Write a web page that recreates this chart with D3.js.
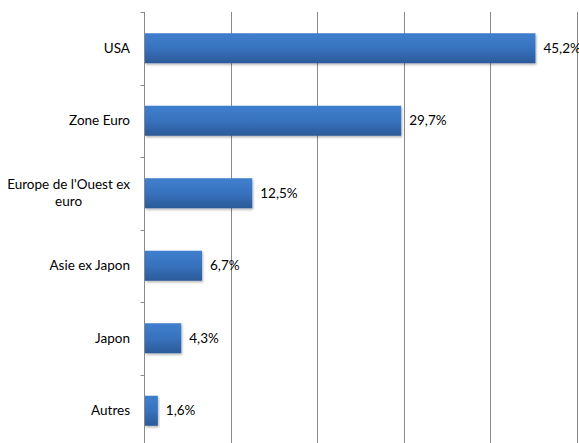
<!DOCTYPE html>
<html>
<head>
<meta charset="utf-8">
<script src="https://cdn.jsdelivr.net/npm/d3@7"></script>
<style>
  body { margin: 0; background: #fff; }
  text { font-family: Lato, "Open Sans", sans-serif; fill: #000; }
</style>
</head>
<body>
<script>
const categories = ["USA", "Zone Euro", "Europe de l'Ouest ex euro", "Asie ex Japon", "Japon", "Autres"];
const labelLines = [["USA"], ["Zone Euro"], ["Europe de l'Ouest ex", "euro"], ["Asie ex Japon"], ["Japon"], ["Autres"]];
const values = [45.2, 29.7, 12.5, 6.7, 4.3, 1.6];
const gridTicks = [0, 10, 20, 30, 40, 50];

window.onload = function () {
    const w = 579, h = 443;
    const x0 = 144, x1 = 577, yTop = 12, yBottom = 447;

    const x = d3.scaleLinear().domain([0, 50]).range([x0, x1]);
    const y = d3.scaleBand().domain(categories).range([yTop, yBottom]).paddingInner(0.586).paddingOuter(0.293);

    const svg = d3.select("body").append("svg")
        .attr("width", w)
        .attr("height", h);

    const defs = svg.append("defs");
    const grad = defs.append("linearGradient")
        .attr("id", "barGrad")
        .attr("x1", 0).attr("y1", 0).attr("x2", 0).attr("y2", 1);
    grad.append("stop").attr("offset", "0%").attr("stop-color", "#3f7fce");
    grad.append("stop").attr("offset", "50%").attr("stop-color", "#3872be");
    grad.append("stop").attr("offset", "100%").attr("stop-color", "#2b5a98");

    const shadow = defs.append("filter").attr("id", "shadow")
        .attr("x", "-5%").attr("y", "-20%").attr("width", "115%").attr("height", "150%");
    shadow.append("feDropShadow")
        .attr("dx", 1).attr("dy", 1.5).attr("stdDeviation", 1)
        .attr("flood-color", "#000").attr("flood-opacity", 0.3);

    // vertical gridlines
    svg.selectAll(".grid")
        .data(gridTicks.slice(1))
        .enter().append("line")
        .attr("x1", d => Math.round(x(d)) + 0.5)
        .attr("x2", d => Math.round(x(d)) + 0.5)
        .attr("y1", yTop)
        .attr("y2", h)
        .style("stroke", "#8a8a8a")
        .style("stroke-width", 1);

    // category axis with ticks between bands
    const axisX = x0 + 0.5;
    svg.append("line")
        .attr("x1", axisX).attr("x2", axisX)
        .attr("y1", yTop).attr("y2", h)
        .style("stroke", "#8a8a8a");

    const step = y.step();
    svg.selectAll(".tick")
        .data(d3.range(categories.length + 1))
        .enter().append("line")
        .attr("x1", axisX - 4).attr("x2", axisX)
        .attr("y1", i => Math.round(yTop + i * step) + 0.5)
        .attr("y2", i => Math.round(yTop + i * step) + 0.5)
        .style("stroke", "#8a8a8a");

    // bars
    svg.selectAll(".bar")
        .data(values)
        .enter().append("rect")
        .attr("x", x0 + 1)
        .attr("y", (d, i) => y(categories[i]))
        .attr("width", d => x(d) - x0 - 1)
        .attr("height", y.bandwidth())
        .attr("fill", "url(#barGrad)")
        .attr("filter", "url(#shadow)");

    // value labels
    svg.selectAll(".val")
        .data(values)
        .enter().append("text")
        .attr("x", d => x(d) + 8)
        .attr("y", (d, i) => y(categories[i]) + y.bandwidth() / 2)
        .attr("dy", "0.35em")
        .attr("font-size", "13.5px")
        .text(d => d.toFixed(1).replace(".", ",") + "%");

    // category labels
    const labelRight = 130;
    const lineH = 17;
    labelLines.forEach(function (lines, i) {
        const cy = y(categories[i]) + y.bandwidth() / 2;
        const g = svg.append("g");
        const texts = g.selectAll("text")
            .data(lines)
            .enter().append("text")
            .attr("font-size", "13.5px")
            .attr("text-anchor", "middle")
            .attr("y", (d, j) => cy + (j - (lines.length - 1) / 2) * lineH)
            .attr("dy", "0.35em")
            .text(d => d);
        let maxW = 0;
        texts.each(function () { maxW = Math.max(maxW, this.getComputedTextLength()); });
        texts.attr("x", labelRight - maxW / 2);
    });
};
</script>
</body>
</html>
